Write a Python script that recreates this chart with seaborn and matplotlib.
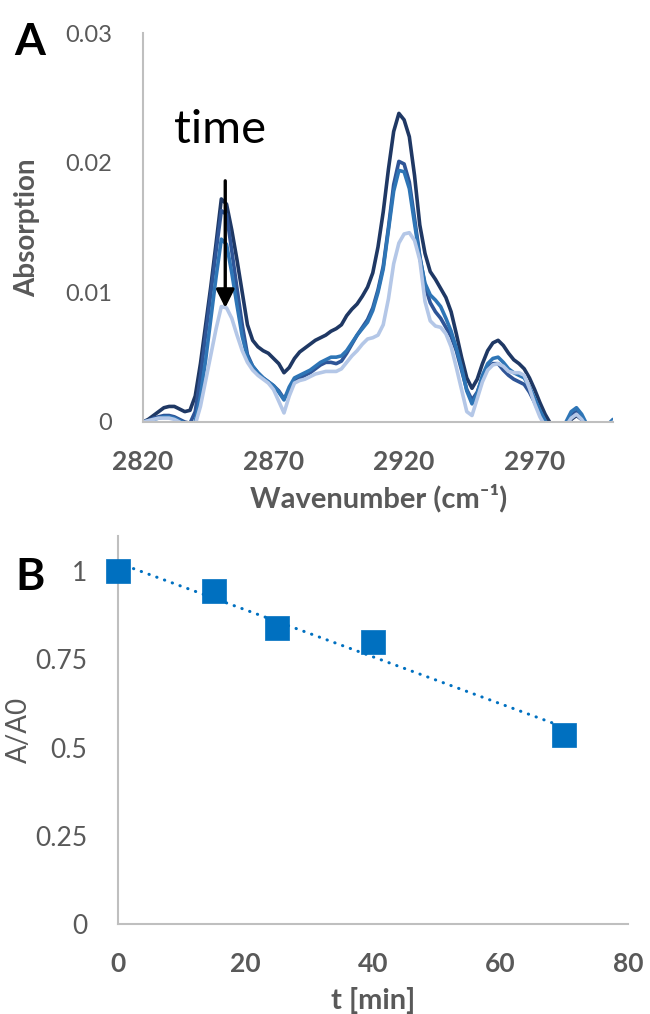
import numpy as np
import pandas as pd
import matplotlib
matplotlib.use("Agg")
import matplotlib.pyplot as plt
import seaborn as sns

# ---------------- data: panel A (IR spectra) ----------------
wavenumber = [
    2820, 2822, 2824, 2826, 2828, 2830, 2832, 2834, 2836, 2838,
    2840, 2842, 2844, 2846, 2848, 2850, 2852, 2854, 2856, 2858,
    2860, 2862, 2864, 2866, 2868, 2870, 2872, 2874, 2876, 2878,
    2880, 2882, 2884, 2886, 2888, 2890, 2892, 2894, 2896, 2898,
    2900, 2902, 2904, 2906, 2908, 2910, 2912, 2914, 2916, 2918,
    2920, 2922, 2924, 2926, 2928, 2930, 2932, 2934, 2936, 2938,
    2940, 2942, 2944, 2946, 2948, 2950, 2952, 2954, 2956, 2958,
    2960, 2962, 2964, 2966, 2968, 2970, 2972, 2974, 2976, 2978,
    2980, 2982, 2984, 2986, 2988, 2990, 2992, 2994, 2996, 2998,
    3000]

spec_t1 = [
    0.0000, 0.0002, 0.0005, 0.0008, 0.0011, 0.0012, 0.0012, 0.0010, 0.0008, 0.0009,
    0.0020, 0.0045, 0.0075, 0.0105, 0.0138, 0.0172, 0.0168, 0.0148, 0.0125, 0.0100,
    0.0075, 0.0063, 0.0058, 0.0055, 0.0053, 0.0049, 0.0045, 0.0038, 0.0042, 0.0049,
    0.0054, 0.0057, 0.0060, 0.0063, 0.0065, 0.0067, 0.0070, 0.0072, 0.0075, 0.0082,
    0.0087, 0.0091, 0.0097, 0.0104, 0.0115, 0.0135, 0.0162, 0.0195, 0.0224, 0.0238,
    0.0233, 0.0220, 0.0190, 0.0152, 0.0130, 0.0116, 0.0110, 0.0103, 0.0096, 0.0085,
    0.0068, 0.0050, 0.0034, 0.0026, 0.0033, 0.0045, 0.0055, 0.0061, 0.0063, 0.0059,
    0.0053, 0.0048, 0.0045, 0.0041, 0.0034, 0.0025, 0.0015, 0.0006, -0.0001, -0.0006,
    -0.0008, -0.0005, 0.0002, 0.0005, 0.0002, -0.0004, -0.0006, -0.0006, -0.0005, -0.0003,
    -0.0002]

spec_t2 = [
    0.0000, 0.0001, 0.0003, 0.0004, 0.0005, 0.0005, 0.0004, 0.0002, 0.0000, -0.0001,
    0.0008, 0.0035, 0.0068, 0.0100, 0.0132, 0.0163, 0.0160, 0.0132, 0.0103, 0.0075,
    0.0052, 0.0043, 0.0038, 0.0034, 0.0031, 0.0028, 0.0024, 0.0018, 0.0024, 0.0031,
    0.0034, 0.0036, 0.0038, 0.0041, 0.0044, 0.0046, 0.0046, 0.0045, 0.0047, 0.0053,
    0.0060, 0.0067, 0.0073, 0.0079, 0.0088, 0.0102, 0.0120, 0.0150, 0.0183, 0.0201,
    0.0199, 0.0185, 0.0157, 0.0128, 0.0105, 0.0092, 0.0085, 0.0080, 0.0073, 0.0066,
    0.0055, 0.0040, 0.0025, 0.0017, 0.0023, 0.0034, 0.0042, 0.0045, 0.0045, 0.0040,
    0.0036, 0.0033, 0.0031, 0.0029, 0.0023, 0.0015, 0.0006, -0.0001, -0.0006, -0.0009,
    -0.0008, -0.0002, 0.0005, 0.0008, 0.0004, -0.0003, -0.0006, -0.0006, -0.0005, -0.0003,
    -0.0001]

spec_t3 = [
    0.0000, 0.0001, 0.0002, 0.0003, 0.0004, 0.0004, 0.0003, 0.0001, -0.0001, -0.0003,
    0.0000, 0.0020, 0.0048, 0.0080, 0.0112, 0.0141, 0.0137, 0.0115, 0.0090, 0.0066,
    0.0050, 0.0043, 0.0038, 0.0034, 0.0031, 0.0028, 0.0023, 0.0017, 0.0027, 0.0034,
    0.0036, 0.0038, 0.0040, 0.0043, 0.0046, 0.0048, 0.0050, 0.0050, 0.0051, 0.0055,
    0.0061, 0.0067, 0.0072, 0.0077, 0.0086, 0.0100, 0.0118, 0.0148, 0.0178, 0.0194,
    0.0193, 0.0180, 0.0153, 0.0127, 0.0107, 0.0098, 0.0094, 0.0089, 0.0080, 0.0070,
    0.0057, 0.0042, 0.0024, 0.0014, 0.0022, 0.0036, 0.0045, 0.0049, 0.0050, 0.0046,
    0.0041, 0.0038, 0.0036, 0.0034, 0.0027, 0.0018, 0.0009, 0.0001, -0.0005, -0.0008,
    -0.0007, 0.0000, 0.0008, 0.0011, 0.0006, -0.0002, -0.0005, -0.0005, -0.0004, -0.0002,
    0.0002]

spec_t4 = [
    0.0000, 0.0001, 0.0002, 0.0003, 0.0003, 0.0003, 0.0002, 0.0000, -0.0003, -0.0005,
    -0.0002, 0.0012, 0.0032, 0.0052, 0.0072, 0.0089, 0.0088, 0.0080, 0.0067, 0.0055,
    0.0046, 0.0040, 0.0036, 0.0033, 0.0030, 0.0025, 0.0016, 0.0007, 0.0020, 0.0030,
    0.0032, 0.0033, 0.0035, 0.0037, 0.0038, 0.0039, 0.0039, 0.0039, 0.0041, 0.0046,
    0.0051, 0.0055, 0.0060, 0.0064, 0.0065, 0.0067, 0.0075, 0.0095, 0.0122, 0.0138,
    0.0145, 0.0146, 0.0140, 0.0125, 0.0093, 0.0078, 0.0074, 0.0073, 0.0068, 0.0058,
    0.0042, 0.0025, 0.0008, 0.0005, 0.0018, 0.0031, 0.0040, 0.0044, 0.0045, 0.0043,
    0.0039, 0.0038, 0.0038, 0.0036, 0.0026, 0.0014, 0.0004, -0.0003, -0.0008, -0.0010,
    -0.0008, -0.0003, 0.0003, 0.0006, 0.0002, -0.0004, -0.0006, -0.0006, -0.0005, -0.0003,
    0.0000]

series_names = ["t1", "t2", "t3", "t4"]
series_colors = ["#1F3864", "#2F5597", "#2E75B6", "#B4C7E7"]
a_yticks = [0, 0.01, 0.02, 0.03]
a_yticklabels = ["0", "0.01", "0.02", "0.03"]
a_xticks = [2820, 2870, 2920, 2970]

# arrow annotation ("time")
arrow_x = 2851.5
arrow_y_start = 0.0186
arrow_y_end = 0.0088

# ---------------- data: panel B (decay) ----------------
t_min = [0, 15, 25, 40, 70]
ratio = [1.0, 0.945, 0.84, 0.80, 0.535]
b_yticks = [0, 0.25, 0.5, 0.75, 1]
b_yticklabels = ["0", "0.25", "0.5", "0.75", "1"]
b_xticks = [0, 20, 40, 60, 80]

# ---------------- style ----------------
sns.set_style("white")
plt.rcParams["font.family"] = ["Lato", "DejaVu Sans"]
GRAY = "#595959"
SPINE = "#BFBFBF"

fig = plt.figure(figsize=(6.5, 10.14), dpi=100)

# ---------------- panel A ----------------
axA = fig.add_axes([143 / 650, 1 - 422 / 1014, 470 / 650, 389 / 1014])
specs = [spec_t1, spec_t2, spec_t3, spec_t4]
dfA = pd.concat([
    pd.DataFrame({"wavenumber": wavenumber, "absorption": s, "series": n})
    for s, n in zip(specs, series_names)
], ignore_index=True)
sns.lineplot(data=dfA, x="wavenumber", y="absorption", hue="series",
             hue_order=series_names, palette=series_colors, linewidth=2.6,
             legend=False, ax=axA, estimator=None, sort=False)
for ln in axA.get_lines():
    ln.set_solid_joinstyle("round")
    ln.set_solid_capstyle("round")
axA.set_xlim(2820, 3000)
axA.set_ylim(0, 0.03)
axA.set_xticks(a_xticks)
axA.set_xticklabels([str(v) for v in a_xticks], fontsize=19, fontweight="bold", color=GRAY)
axA.set_yticks(a_yticks)
axA.set_yticklabels(a_yticklabels, fontsize=17, color=GRAY)
axA.tick_params(axis="x", length=0, pad=20)
axA.tick_params(axis="y", length=0, pad=22)
axA.set_xlabel("Wavenumber (cm⁻¹)", fontsize=21, fontweight="bold", color=GRAY)
axA.set_ylabel("Absorption", fontsize=20, fontweight="bold", color=GRAY)
axA.xaxis.set_label_coords((379 - 143) / 470, -(498 - 422) / 389)
axA.xaxis.label.set_va("center")
axA.yaxis.set_label_coords((27 - 143) / 470, 0.5)
axA.yaxis.label.set_va("center")
for side in ["top", "right"]:
    axA.spines[side].set_visible(False)
for side in ["left", "bottom"]:
    axA.spines[side].set_color(SPINE)
    axA.spines[side].set_linewidth(1.5)
axA.annotate("", xy=(arrow_x, arrow_y_end), xytext=(arrow_x, arrow_y_start),
             arrowprops=dict(arrowstyle="-|>,head_length=1.1,head_width=0.55",
                             color="black", lw=2.4, shrinkA=0, shrinkB=0))
axA.text(arrow_x - 2, 0.0225, "time", fontsize=34, color="black",
         ha="center", va="center")
fig.text(30 / 650, 1 - 42 / 1014, "A", fontsize=32, fontweight="bold",
         color="black", ha="center", va="center")

# ---------------- panel B ----------------
axB = fig.add_axes([118 / 650, 1 - 924 / 1014, 510 / 650, 388 / 1014])
coef = np.polyfit(t_min, ratio, 1)
trend_x = [min(t_min), max(t_min)]
trend_df = pd.DataFrame({"t": trend_x, "fit": np.polyval(coef, trend_x)})
sns.lineplot(data=trend_df, x="t", y="fit", ax=axB, color="#0070C0",
             linewidth=2.2, linestyle=(0, (0.1, 2.6)), dash_capstyle="round",
             legend=False, zorder=2)
dfB = pd.DataFrame({"t": t_min, "ratio": ratio})
sns.scatterplot(data=dfB, x="t", y="ratio", ax=axB, marker="s", s=280,
                color="#0070C0", edgecolor="#0070C0", linewidth=0.5, zorder=3,
                clip_on=False, legend=False)
axB.set_xlim(0, 80)
axB.set_ylim(0, 1.1)
axB.set_xticks(b_xticks)
axB.set_xticklabels([str(v) for v in b_xticks], fontsize=19, fontweight="bold", color=GRAY)
axB.set_yticks(b_yticks)
axB.set_yticklabels(b_yticklabels, fontsize=19, color=GRAY)
axB.tick_params(axis="x", length=0, pad=20)
axB.tick_params(axis="y", length=0, pad=22)
axB.set_xlabel("t [min]", fontsize=21, fontweight="bold", color=GRAY)
axB.set_ylabel("A/A0", fontsize=20, color=GRAY)
axB.xaxis.set_label_coords(0.5, -(1000 - 924) / 388)
axB.xaxis.label.set_va("center")
axB.yaxis.set_label_coords((19 - 118) / 510, (924 - 730) / 388)
axB.yaxis.label.set_va("center")
for side in ["top", "right"]:
    axB.spines[side].set_visible(False)
for side in ["left", "bottom"]:
    axB.spines[side].set_color(SPINE)
    axB.spines[side].set_linewidth(1.5)
fig.text(30 / 650, 1 - 577 / 1014, "B", fontsize=32, fontweight="bold",
         color="black", ha="center", va="center")

fig.savefig("out.png", dpi=100)
